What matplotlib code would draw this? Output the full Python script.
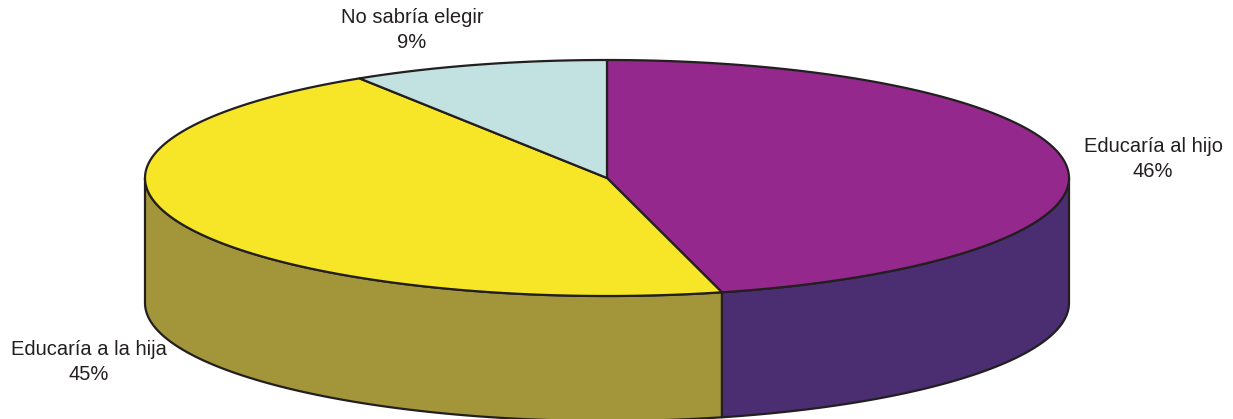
import numpy as np
import matplotlib.pyplot as plt
from matplotlib.patches import Polygon

plt.rcParams['font.family'] = ['Liberation Sans', 'DejaVu Sans']

labels = ['Educaría al hijo', 'Educaría a la hija', 'No sabría elegir']
values = [46, 45, 9]
top_colors = ['#95288C', '#F6E627', '#C1E2E0']
side_colors = ['#4B2D72', '#A3953A', '#8FB0AE']
label_pos = [(1153, 159), (89, 362), (412, 30)]

# pie geometry in pixels
cx, cy = 607, 178
rx, ry = 462, 118
depth = 125


def arc(t0, t1, dy=0):
    t = np.radians(np.linspace(t0, t1, max(int(abs(t1 - t0)), 2)))
    return np.column_stack([cx + rx * np.cos(t), cy - ry * np.sin(t) + dy])


fig = plt.figure(figsize=(12.33, 4.19), dpi=100)
ax = fig.add_axes([0, 0, 1, 1])
ax.set_xlim(0, 1233)
ax.set_ylim(419, 0)
ax.axis('off')

# slice angles, start at top, go clockwise
fr = np.array(values) / sum(values) * 360
ends = 90 - np.cumsum(fr)
starts = ends + fr

# side walls (front half only)
for s, e, c in zip(starts, ends, side_colors):
    a0, a1 = max(e, -180), min(s, 0)
    if a0 >= a1:
        continue
    topa = arc(a1, a0)
    bota = arc(a0, a1, depth)
    ax.add_patch(Polygon(np.vstack([topa, bota]), closed=True, fc=c,
                         ec='#231F20', lw=1.6, joinstyle='round'))

# top faces
for s, e, c in zip(starts, ends, top_colors):
    pts = np.vstack([[cx, cy], arc(s, e)])
    ax.add_patch(Polygon(pts, closed=True, fc=c, ec='#231F20', lw=1.6,
                         joinstyle='round'))

for lab, v, (x, y) in zip(labels, values, label_pos):
    ax.text(x, y, '%s\n%d%%' % (lab, v), ha='center', va='center',
            fontsize=14.5, color='#231F20', linespacing=1.45)

fig.savefig('out.png', dpi=100)
